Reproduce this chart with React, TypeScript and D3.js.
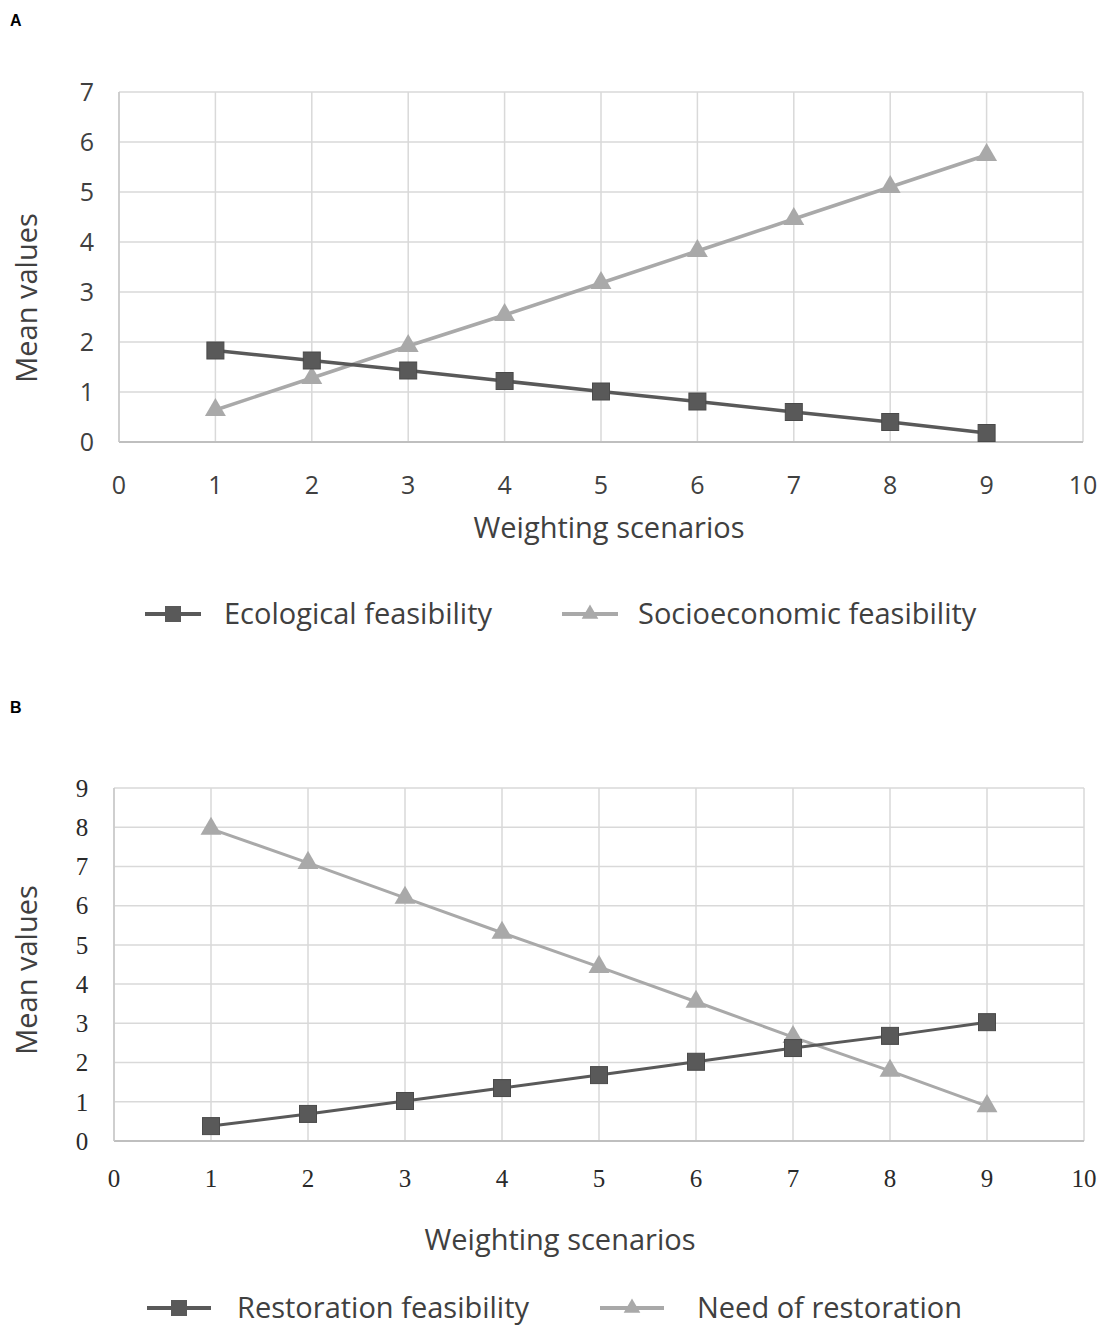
import React, { useRef, useEffect } from "react";
import * as d3 from "d3";

// Panel A
const scenarios = [1, 2, 3, 4, 5, 6, 7, 8, 9];
const ecological = [1.83, 1.63, 1.43, 1.22, 1.01, 0.81, 0.6, 0.4, 0.18];
const socioeconomic = [0.64, 1.28, 1.92, 2.54, 3.18, 3.82, 4.46, 5.1, 5.74];
const yTicksA = [0, 1, 2, 3, 4, 5, 6, 7];

// Panel B
const restorationFeas = [0.38, 0.69, 1.02, 1.35, 1.68, 2.02, 2.37, 2.68, 3.03];
const needRestoration = [7.96, 7.09, 6.2, 5.31, 4.44, 3.55, 2.65, 1.79, 0.89];
const yTicksB = [0, 1, 2, 3, 4, 5, 6, 7, 8, 9];

const xTicks = [0, 1, 2, 3, 4, 5, 6, 7, 8, 9, 10];

const DARK = "#595959";
const LIGHT = "#a9a9a9";
const GRID = "#d9d9d9";
const SANS = "'Open Sans', Lato, sans-serif";
const SERIF = "'Liberation Serif', 'DejaVu Serif', serif";

const App = () => {
  const svgRef = useRef(null);

  useEffect(() => {
    document.body.style.margin = "0";
    const svg = d3.select(svgRef.current);
    svg.selectAll("*").remove();

    const drawPanel = (cfg) => {
      const x = d3.scaleLinear().domain([0, 10]).range([cfg.left, cfg.right]);
      const y = d3.scaleLinear().domain([0, cfg.yMax]).range([cfg.bottom, cfg.top]);
      const g = svg.append("g");

      // grid
      g.selectAll(".hg")
        .data(cfg.yTicks)
        .enter()
        .append("line")
        .attr("x1", cfg.left)
        .attr("x2", cfg.right)
        .attr("y1", (d) => y(d))
        .attr("y2", (d) => y(d))
        .attr("stroke", GRID)
        .attr("stroke-width", 1.5);
      g.selectAll(".vg")
        .data(xTicks)
        .enter()
        .append("line")
        .attr("x1", (d) => x(d))
        .attr("x2", (d) => x(d))
        .attr("y1", cfg.top)
        .attr("y2", cfg.bottom)
        .attr("stroke", GRID)
        .attr("stroke-width", 1.5);
      // axes lines
      g.append("line")
        .attr("x1", cfg.left).attr("x2", cfg.right)
        .attr("y1", cfg.bottom).attr("y2", cfg.bottom)
        .attr("stroke", "#bfbfbf").attr("stroke-width", 2);
      g.append("line")
        .attr("x1", cfg.left).attr("x2", cfg.left)
        .attr("y1", cfg.top).attr("y2", cfg.bottom)
        .attr("stroke", "#c8c8c8").attr("stroke-width", 1.5);

      // tick labels
      g.selectAll(".yl")
        .data(cfg.yTicks)
        .enter()
        .append("text")
        .attr("x", cfg.left - 32)
        .attr("y", (d) => y(d))
        .attr("dy", "0.35em")
        .attr("text-anchor", "middle")
        .attr("font-family", cfg.tickFont)
        .attr("font-size", cfg.tickSize)
        .attr("fill", cfg.tickColor)
        .text((d) => d);
      g.selectAll(".xl")
        .data(xTicks)
        .enter()
        .append("text")
        .attr("x", (d) => x(d))
        .attr("y", cfg.xLabelY)
        .attr("dy", "0.35em")
        .attr("text-anchor", "middle")
        .attr("font-family", cfg.tickFont)
        .attr("font-size", cfg.tickSize)
        .attr("fill", cfg.tickColor)
        .text((d) => d);

      // titles
      g.append("text")
        .attr("transform", `translate(${cfg.yTitleX},${cfg.yTitleY}) rotate(-90)`)
        .attr("dy", "0.35em")
        .attr("text-anchor", "middle")
        .attr("font-family", SANS)
        .attr("font-size", 29)
        .attr("fill", "#404040")
        .text("Mean values");
      g.append("text")
        .attr("x", cfg.xTitleX)
        .attr("y", cfg.xTitleY)
        .attr("dy", "0.35em")
        .attr("text-anchor", "middle")
        .attr("font-family", SANS)
        .attr("font-size", 29)
        .attr("fill", "#404040")
        .text("Weighting scenarios");

      const line = d3
        .line()
        .x((d, i) => x(scenarios[i]))
        .y((d) => y(d));

      const tri = d3.symbol().type(d3.symbolTriangle).size(cfg.triSize);

      // light series (triangles)
      g.append("path")
        .datum(cfg.light)
        .attr("fill", "none")
        .attr("stroke", LIGHT)
        .attr("stroke-width", cfg.lineW)
        .attr("d", line);
      g.selectAll(".tri")
        .data(cfg.light)
        .enter()
        .append("path")
        .attr("d", tri)
        .attr("transform", (d, i) => `translate(${x(scenarios[i])},${y(d)})`)
        .attr("fill", LIGHT);

      // dark series (squares)
      g.append("path")
        .datum(cfg.dark)
        .attr("fill", "none")
        .attr("stroke", DARK)
        .attr("stroke-width", cfg.lineW)
        .attr("d", line);
      g.selectAll(".sq")
        .data(cfg.dark)
        .enter()
        .append("rect")
        .attr("x", (d, i) => x(scenarios[i]) - cfg.sq / 2)
        .attr("y", (d) => y(d) - cfg.sq / 2)
        .attr("width", cfg.sq)
        .attr("height", cfg.sq)
        .attr("fill", DARK)
        .attr("stroke", "#4a4a4a")
        .attr("stroke-width", 1);

      // legend
      const lg = cfg.legend;
      g.append("line")
        .attr("x1", lg.x1).attr("x2", lg.x1 + lg.len)
        .attr("y1", lg.y).attr("y2", lg.y)
        .attr("stroke", DARK).attr("stroke-width", 4);
      g.append("rect")
        .attr("x", lg.x1 + lg.len / 2 - 8).attr("y", lg.y - 8)
        .attr("width", 16).attr("height", 16)
        .attr("fill", DARK);
      g.append("text")
        .attr("x", lg.t1).attr("y", lg.y)
        .attr("dy", "0.35em")
        .attr("font-family", SANS).attr("font-size", 29).attr("fill", "#404040")
        .text(cfg.darkName);
      g.append("line")
        .attr("x1", lg.x2).attr("x2", lg.x2 + lg.len)
        .attr("y1", lg.y).attr("y2", lg.y)
        .attr("stroke", LIGHT).attr("stroke-width", 4);
      g.append("path")
        .attr("d", d3.symbol().type(d3.symbolTriangle).size(120))
        .attr("transform", `translate(${lg.x2 + lg.len / 2},${lg.y})`)
        .attr("fill", LIGHT);
      g.append("text")
        .attr("x", lg.t2).attr("y", lg.y)
        .attr("dy", "0.35em")
        .attr("font-family", SANS).attr("font-size", 29).attr("fill", "#404040")
        .text(cfg.lightName);
    };

    drawPanel({
      left: 119, right: 1083, top: 92, bottom: 442, yMax: 7,
      yTicks: yTicksA, tickFont: SANS, tickSize: 25, tickColor: "#404040", xLabelY: 485,
      yTitleX: 27, yTitleY: 298, xTitleX: 609, xTitleY: 528,
      dark: ecological, light: socioeconomic, sq: 17, triSize: 190, lineW: 3.5,
      darkName: "Ecological feasibility", lightName: "Socioeconomic feasibility",
      legend: { y: 614, x1: 145, len: 56, t1: 224, x2: 562, t2: 638 },
    });

    drawPanel({
      left: 114, right: 1084, top: 788, bottom: 1141, yMax: 9,
      yTicks: yTicksB, tickFont: SERIF, tickSize: 25, tickColor: "#2a2a2a", xLabelY: 1178,
      yTitleX: 27, yTitleY: 970, xTitleX: 560, xTitleY: 1240,
      dark: restorationFeas, light: needRestoration, sq: 17, triSize: 190, lineW: 3,
      darkName: "Restoration feasibility", lightName: "Need of restoration",
      legend: { y: 1308, x1: 147, len: 64, t1: 237, x2: 600, t2: 697 },
    });

    svg.append("text").attr("x", 10).attr("y", 26)
      .attr("font-family", "'Liberation Sans', Arial, sans-serif")
      .attr("font-weight", "bold").attr("font-size", 16).text("A");
    svg.append("text").attr("x", 10).attr("y", 713)
      .attr("font-family", "'Liberation Sans', Arial, sans-serif")
      .attr("font-weight", "bold").attr("font-size", 16).text("B");
  }, []);

  return (
    <svg ref={svgRef} width={1105} height={1326} style={{ display: "block", background: "#fff" }}></svg>
  );
};

export default App;
